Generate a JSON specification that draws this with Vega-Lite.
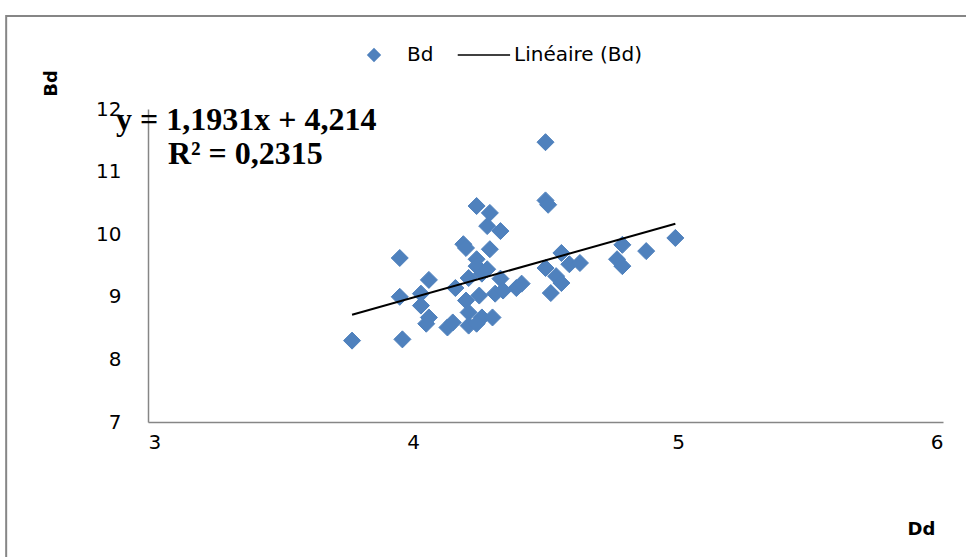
{
  "$schema": "https://vega.github.io/schema/vega-lite/v6.json",
  "width": 795,
  "height": 313,
  "autosize": {"type": "none"},
  "padding": {"left": 148, "top": 109, "right": 23, "bottom": 135},
  "background": "white",
  "config": {
    "view": {"stroke": null},
    "font": "DejaVu Sans",
    "axis": {
      "domainColor": "#868686",
      "domainWidth": 1.5,
      "ticks": false,
      "grid": false,
      "labelFont": "DejaVu Sans",
      "labelFontSize": 20,
      "labelColor": "#000000",
      "titleFont": "DejaVu Sans",
      "titleFontSize": 18,
      "titleFontWeight": "bold",
      "titleColor": "#000000"
    },
    "legend": {
      "orient": "none",
      "legendX": 216,
      "legendY": -64,
      "direction": "horizontal",
      "title": null,
      "labelFont": "DejaVu Sans",
      "labelFontSize": 20,
      "labelColor": "#000000",
      "symbolSize": 150,
      "symbolStrokeWidth": 1.5,
      "labelOffset": 23,
      "columnPadding": 20,
      "padding": 0
    }
  },
  "datasets": {
    "points": [
      {"Dd": 3.77, "Bd": 8.30, "serie": "Bd"},
      {"Dd": 3.96, "Bd": 8.32, "serie": "Bd"},
      {"Dd": 3.95, "Bd": 9.62, "serie": "Bd"},
      {"Dd": 3.95, "Bd": 9.00, "serie": "Bd"},
      {"Dd": 4.06, "Bd": 9.27, "serie": "Bd"},
      {"Dd": 4.03, "Bd": 9.05, "serie": "Bd"},
      {"Dd": 4.03, "Bd": 8.86, "serie": "Bd"},
      {"Dd": 4.06, "Bd": 8.67, "serie": "Bd"},
      {"Dd": 4.05, "Bd": 8.57, "serie": "Bd"},
      {"Dd": 4.13, "Bd": 8.51, "serie": "Bd"},
      {"Dd": 4.15, "Bd": 8.59, "serie": "Bd"},
      {"Dd": 4.16, "Bd": 9.14, "serie": "Bd"},
      {"Dd": 4.19, "Bd": 9.84, "serie": "Bd"},
      {"Dd": 4.20, "Bd": 9.78, "serie": "Bd"},
      {"Dd": 4.24, "Bd": 10.45, "serie": "Bd"},
      {"Dd": 4.29, "Bd": 10.34, "serie": "Bd"},
      {"Dd": 4.28, "Bd": 10.13, "serie": "Bd"},
      {"Dd": 4.33, "Bd": 10.05, "serie": "Bd"},
      {"Dd": 4.29, "Bd": 9.76, "serie": "Bd"},
      {"Dd": 4.24, "Bd": 9.60, "serie": "Bd"},
      {"Dd": 4.24, "Bd": 9.49, "serie": "Bd"},
      {"Dd": 4.26, "Bd": 9.37, "serie": "Bd"},
      {"Dd": 4.21, "Bd": 9.30, "serie": "Bd"},
      {"Dd": 4.28, "Bd": 9.44, "serie": "Bd"},
      {"Dd": 4.33, "Bd": 9.29, "serie": "Bd"},
      {"Dd": 4.20, "Bd": 8.94, "serie": "Bd"},
      {"Dd": 4.25, "Bd": 9.02, "serie": "Bd"},
      {"Dd": 4.31, "Bd": 9.05, "serie": "Bd"},
      {"Dd": 4.21, "Bd": 8.75, "serie": "Bd"},
      {"Dd": 4.26, "Bd": 8.67, "serie": "Bd"},
      {"Dd": 4.21, "Bd": 8.54, "serie": "Bd"},
      {"Dd": 4.24, "Bd": 8.57, "serie": "Bd"},
      {"Dd": 4.30, "Bd": 8.67, "serie": "Bd"},
      {"Dd": 4.39, "Bd": 9.14, "serie": "Bd"},
      {"Dd": 4.41, "Bd": 9.21, "serie": "Bd"},
      {"Dd": 4.34, "Bd": 9.10, "serie": "Bd"},
      {"Dd": 4.50, "Bd": 11.47, "serie": "Bd"},
      {"Dd": 4.50, "Bd": 10.54, "serie": "Bd"},
      {"Dd": 4.51, "Bd": 10.47, "serie": "Bd"},
      {"Dd": 4.50, "Bd": 9.46, "serie": "Bd"},
      {"Dd": 4.52, "Bd": 9.06, "serie": "Bd"},
      {"Dd": 4.54, "Bd": 9.33, "serie": "Bd"},
      {"Dd": 4.56, "Bd": 9.22, "serie": "Bd"},
      {"Dd": 4.56, "Bd": 9.70, "serie": "Bd"},
      {"Dd": 4.59, "Bd": 9.52, "serie": "Bd"},
      {"Dd": 4.63, "Bd": 9.54, "serie": "Bd"},
      {"Dd": 4.77, "Bd": 9.60, "serie": "Bd"},
      {"Dd": 4.79, "Bd": 9.49, "serie": "Bd"},
      {"Dd": 4.79, "Bd": 9.83, "serie": "Bd"},
      {"Dd": 4.88, "Bd": 9.73, "serie": "Bd"},
      {"Dd": 4.99, "Bd": 9.94, "serie": "Bd"}
    ],
    "trend": [
      {"Dd": 3.77, "Bd": 8.712, "serie": "Linéaire (Bd)"},
      {"Dd": 4.99, "Bd": 10.167, "serie": "Linéaire (Bd)"}
    ],
    "labels": [
      {"texte": "y = 1,1931x + 4,214", "ligne": 1},
      {"texte": "R² = 0,2315", "ligne": 2}
    ]
  },
  "layer": [
    {
      "data": {"values": [{"cadre": 1}]},
      "mark": {"type": "rect", "fill": null, "fillOpacity": 0, "stroke": "#868686", "strokeWidth": 2},
      "encoding": {
        "x": {"datum": 2.4648, "type": "quantitative", "scale": {"domain": [3, 6], "nice": false, "zero": false}},
        "x2": {"datum": 6.25},
        "y": {"datum": 13.486, "type": "quantitative", "scale": {"domain": [7, 12], "nice": false, "zero": false}},
        "y2": {"datum": 4.3}
      }
    },
    {
      "data": {"name": "points"},
      "mark": {"type": "point", "filled": true, "size": 290, "opacity": 1, "strokeWidth": 1},
      "encoding": {
        "x": {
          "field": "Dd", "type": "quantitative",
          "scale": {"domain": [3, 6], "nice": false, "zero": false},
          "axis": {"values": [3, 4, 5, 6], "format": "d", "labelPadding": 10, "title": "Dd", "titleX": 773, "titleY": 107, "titleAlign": "center", "titleBaseline": "middle", "titleAngle": 0}
        },
        "y": {
          "field": "Bd", "type": "quantitative",
          "scale": {"domain": [7, 12], "nice": false, "zero": false},
          "axis": {"values": [7, 8, 9, 10, 11, 12], "format": "d", "labelPadding": 27, "title": "Bd", "titleX": -97, "titleY": -26, "titleAlign": "center", "titleBaseline": "middle", "titleAngle": 270}
        },
        "color": {"field": "serie", "type": "nominal", "scale": {"domain": ["Bd", "Linéaire (Bd)"], "range": ["#4F81BD", "#000000"]}},
        "stroke": {"field": "serie", "type": "nominal", "scale": {"domain": ["Bd", "Linéaire (Bd)"], "range": ["#4F81BD", "#000000"]}},
        "shape": {"field": "serie", "type": "nominal", "scale": {"domain": ["Bd", "Linéaire (Bd)"], "range": ["diamond", "M-3.8,0H4.75"]}}
      }
    },
    {
      "data": {"name": "trend"},
      "mark": {"type": "line", "strokeWidth": 2},
      "encoding": {
        "x": {"field": "Dd", "type": "quantitative"},
        "y": {"field": "Bd", "type": "quantitative"},
        "color": {"field": "serie", "type": "nominal"}
      }
    },
    {
      "data": {"name": "labels"},
      "transform": [{"filter": "datum.ligne === 1"}],
      "mark": {"type": "text", "font": "Liberation Serif", "fontWeight": "bold", "fontSize": 32, "align": "left", "baseline": "alphabetic", "color": "#000000"},
      "encoding": {
        "x": {"datum": 2.879, "type": "quantitative"},
        "y": {"datum": 11.66, "type": "quantitative"},
        "text": {"field": "texte"}
      }
    },
    {
      "data": {"name": "labels"},
      "transform": [{"filter": "datum.ligne === 2"}],
      "mark": {"type": "text", "font": "Liberation Serif", "fontWeight": "bold", "fontSize": 32, "align": "left", "baseline": "alphabetic", "color": "#000000"},
      "encoding": {
        "x": {"datum": 3.075, "type": "quantitative"},
        "y": {"datum": 11.12, "type": "quantitative"},
        "text": {"field": "texte"}
      }
    }
  ]
}
